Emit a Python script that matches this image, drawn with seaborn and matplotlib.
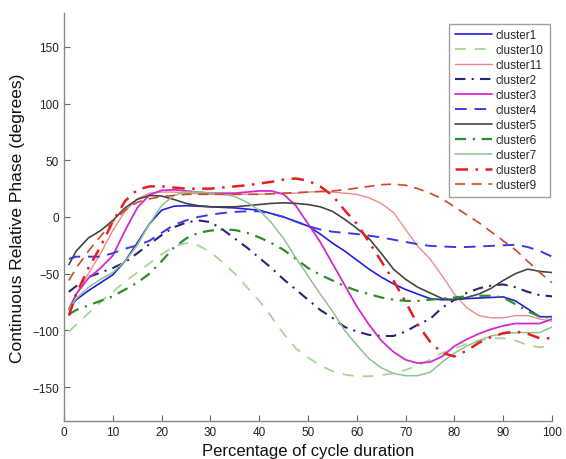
import numpy as np
import pandas as pd
import matplotlib
matplotlib.use("Agg")
import matplotlib.pyplot as plt
import seaborn as sns

# ---- data ----
pct = [1, 2.5, 5, 7.5, 10, 12.5, 15, 17.5, 20, 22.5, 25, 27.5, 30, 32.5, 35, 37.5, 40,
       42.5, 45, 47.5, 50, 52.5, 55, 57.5, 60, 62.5, 65, 67.5, 70, 72.5, 75, 77.5, 80,
       82.5, 85, 87.5, 90, 92.5, 95, 97.5, 100]

cluster1 = [-81, -73, -65, -58, -51, -39, -23, -6, 6, 9.5, 10, 9.5, 9, 8.5, 8, 7, 6,
            3, 0, -4, -8, -15, -23, -30, -38, -46, -53, -59, -64, -68, -72, -73, -73,
            -72, -71.5, -71, -70.5, -74, -81, -88, -88]
cluster10 = [-101, -95, -85, -75, -66, -57, -49, -41, -33, -26, -23, -25, -31, -40, -50, -62, -74,
             -88, -103, -116, -124, -131, -136, -139, -140.5, -140.5, -139.5, -138, -135, -131, -126, -120, -116,
             -112, -109, -107, -107, -109, -113, -115, -114]
cluster11 = [-82, -68, -50, -32, -12, 5, 16, 21, 22, 22, 21, 20.5, 20, 20, 20, 20, 20,
             20.5, 21, 21, 22, 22.5, 22, 21, 20, 17, 12, 4, -11, -26, -37, -52, -68,
             -80, -87, -89, -89, -87, -87, -90, -92]
cluster2 = [-66, -61, -53, -49, -45, -40, -32, -24, -16, -9, -5, -3, -4.5, -11, -19, -27, -36,
            -45, -55, -64, -73, -82, -89, -97, -101, -104, -105, -105, -101, -95, -90, -80, -73,
            -67, -63, -60.5, -59.5, -62, -66, -69, -70]
cluster3 = [-81, -68, -54, -45, -34, -12, 8, 19.5, 23.5, 24, 23, 22, 21, 21, 21, 22, 23,
            23, 20, 10, -6, -22, -41, -60, -79, -95, -109, -119, -126, -129, -128, -123, -114,
            -108, -103, -99, -96, -94, -94, -94, -90]
cluster4 = [-37, -35, -35, -35, -32, -28, -25, -21, -14, -7, -3, 0, 2, 3.5, 4.5, 5, 5,
            3, 0, -4, -8, -11, -13, -14, -15, -16.5, -18, -20, -22, -24, -25.5, -26, -26.5,
            -26.5, -26, -25.5, -25, -24.5, -26.5, -30, -35]
cluster5 = [-42, -30, -18.5, -12, -3, 8, 15.5, 19, 18.5, 15.5, 12, 10, 9, 9, 9, 10, 11,
            12, 12.5, 12, 11, 9, 5, -2, -10, -19, -32, -46, -55, -62, -67, -72, -73,
            -71, -68, -63, -56, -50, -46, -48, -49]
cluster6 = [-86, -82, -78, -74, -70, -64, -58, -50, -39, -27, -19, -14, -12, -11, -11.5, -14, -18,
            -23, -29, -37, -45, -51, -56, -61, -65, -68, -71, -73, -74, -74, -73, -72, -71,
            -70, -69.5, -69.5, -71, -77, -83, -88, -89]
cluster7 = [-81, -72, -62, -55, -49, -39, -25, -6, 10, 19, 22, 22, 21, 20, 18, 13, 6,
            -5, -19, -36, -52, -68, -83, -100, -113, -125, -133, -138, -140, -140, -137, -128, -120,
            -114, -109, -105, -103, -102, -102, -102, -97]
cluster8 = [-87, -68, -45, -26, -4, 14, 24, 27, 27, 26, 25, 25, 25, 26, 27, 28, 29.5,
            31, 33, 34, 32, 27, 19, 6, -6, -22, -39, -56, -75, -95, -110, -120, -123,
            -118, -111, -106, -102.5, -101, -103, -107, -107]
cluster9 = [-56, -45, -30, -17, -4, 6, 13, 16, 18, 19, 20, 20, 20, 20, 20, 20, 20,
            20.5, 21, 21.5, 22, 22.5, 23, 24, 25.5, 27, 28.5, 29, 28, 25, 21, 16, 9,
            2, -5, -13, -21, -29, -39, -49, -58]

names = ["cluster1", "cluster10", "cluster11", "cluster2", "cluster3", "cluster4",
         "cluster5", "cluster6", "cluster7", "cluster8", "cluster9"]
series = [cluster1, cluster10, cluster11, cluster2, cluster3, cluster4,
          cluster5, cluster6, cluster7, cluster8, cluster9]

# ---- styles ----
styles = {
    "cluster1": dict(color="#1f1fe0", ls="-", lw=1.2),
    "cluster10": dict(color="#a8d49a", ls=(0, (6, 5)), lw=1.3),
    "cluster11": dict(color="#f08a8a", ls="-", lw=1.0),
    "cluster2": dict(color="#26267a", ls=(0, (5, 3, 1, 3)), lw=1.5),
    "cluster3": dict(color="#d22ad2", ls="-", lw=1.3),
    "cluster4": dict(color="#3b3be6", ls=(0, (6, 4)), lw=1.4),
    "cluster5": dict(color="#454545", ls="-", lw=1.2),
    "cluster6": dict(color="#2a8f2a", ls=(0, (5, 3, 1, 3)), lw=1.6),
    "cluster7": dict(color="#8cc48c", ls="-", lw=1.1),
    "cluster8": dict(color="#e51f1f", ls=(0, (5, 3, 1, 3)), lw=1.8),
    "cluster9": dict(color="#d2462a", ls=(0, (6, 4)), lw=1.2),
}

sns.set_theme(style="white")
plt.rcParams["font.family"] = ["Liberation Sans", "DejaVu Sans"]

fig = plt.figure(figsize=(5.66, 4.60), dpi=100)
ax = fig.add_axes([0.1131, 0.0826, 0.8622, 0.887])

for name, vals in zip(names, series):
    st = styles[name]
    sns.lineplot(x=pct, y=vals, ax=ax, color=st["color"], linestyle=st["ls"],
                 linewidth=st["lw"], label=name)

ax.set_xlim(0, 100)
ax.set_ylim(-180, 180)
ax.set_xticks(np.arange(0, 101, 10))
ax.set_yticks(np.arange(-150, 151, 50))
ax.set_yticklabels([f"\u2212{abs(v)}" if v < 0 else str(v) for v in range(-150, 151, 50)])
ax.tick_params(direction="in", length=4, width=0.8, colors="#666666",
               labelcolor="#222222", labelsize=8.5, bottom=True, left=True)
for s in ["top", "right"]:
    ax.spines[s].set_visible(False)
for s in ["left", "bottom"]:
    ax.spines[s].set_color("#888888")
    ax.spines[s].set_linewidth(1.0)

ax.set_xlabel("Percentage of cycle duration", fontsize=12, color="#111111", labelpad=4)
ax.set_ylabel("Continuous Relative Phase (degrees)", fontsize=12.5, color="#111111", labelpad=5)

leg = ax.legend(loc="upper right", bbox_to_anchor=(1.0, 0.98), fontsize=8.5,
                frameon=True, fancybox=False, edgecolor="#888888",
                handlelength=3.2, labelspacing=0.25, borderpad=0.5,
                handletextpad=0.3, borderaxespad=0.2)
leg.get_frame().set_linewidth(1.0)

fig.savefig("out.png", dpi=100)
